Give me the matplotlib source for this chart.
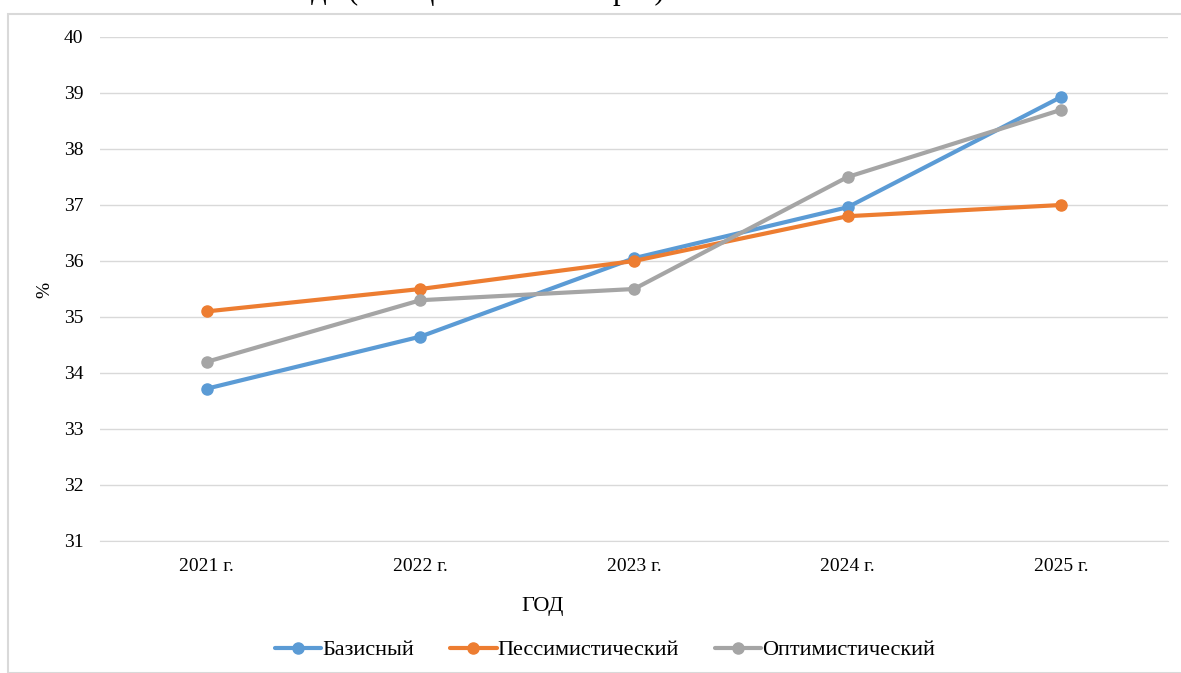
import matplotlib.pyplot as plt
from matplotlib.patches import Rectangle

plt.rcParams['font.family'] = ['Liberation Serif', 'DejaVu Serif']

# data
years = ["2021 г.", "2022 г.", "2023 г.", "2024 г.", "2025 г."]
base = [33.72, 34.65, 36.05, 36.96, 38.93]
pessimistic = [35.1, 35.5, 36.0, 36.8, 37.0]
optimistic = [34.2, 35.3, 35.5, 37.5, 38.7]
series_names = ["Базисный", "Пессимистический", "Оптимистический"]
colors = ["#5B9BD5", "#ED7D31", "#A5A5A5"]

fig = plt.figure(figsize=(11.81, 6.73), dpi=100)
ax = fig.add_axes([100 / 1181, 1 - 541 / 673, 1068 / 1181, 504 / 673])

# outer chart frame
fig.patches.append(Rectangle((8 / 1181, 0), 1.2, 1 - 14 / 673, transform=fig.transFigure,
                             fill=False, edgecolor="#D9D9D9", linewidth=1.5))

# title, cut off by the top edge (only descenders visible)
fig.text(285 / 1181, 1 + 1 / 673, "года (в общем объеме затрат)", fontsize=22,
         ha="left", va="baseline")

x = range(len(years))
for vals, name, c in zip([base, pessimistic, optimistic], series_names, colors):
    ax.plot(x, vals, color=c, linewidth=3, marker="o", markersize=8, label=name,
            solid_capstyle="round")

ax.set_xlim(-0.5, 4.5)
ax.set_ylim(31, 40)
ax.set_yticks(range(31, 41))
ax.set_xticks(list(x))
ax.set_xticklabels(years)
ax.grid(axis="y", color="#D9D9D9", linewidth=1)
ax.set_axisbelow(True)
for s in ["top", "right", "left"]:
    ax.spines[s].set_visible(False)
ax.spines["bottom"].set_color("#D9D9D9")
ax.tick_params(length=0, labelsize=14, pad=12.5)
ax.tick_params(axis="y", pad=12)

fig.text(543 / 1181, 1 - 607 / 673, "ГОД", fontsize=16, ha="center", va="center")
fig.text(45 / 1181, 1 - 290 / 673, "%", fontsize=14, ha="center", va="center", rotation=90)

fig.legend(loc="center", bbox_to_anchor=(605 / 1181, 1 - 650 / 673), ncol=3, frameon=False,
           fontsize=16, handlelength=2.1, handletextpad=0.05, columnspacing=1.6)

fig.savefig("out.png", dpi=100)
